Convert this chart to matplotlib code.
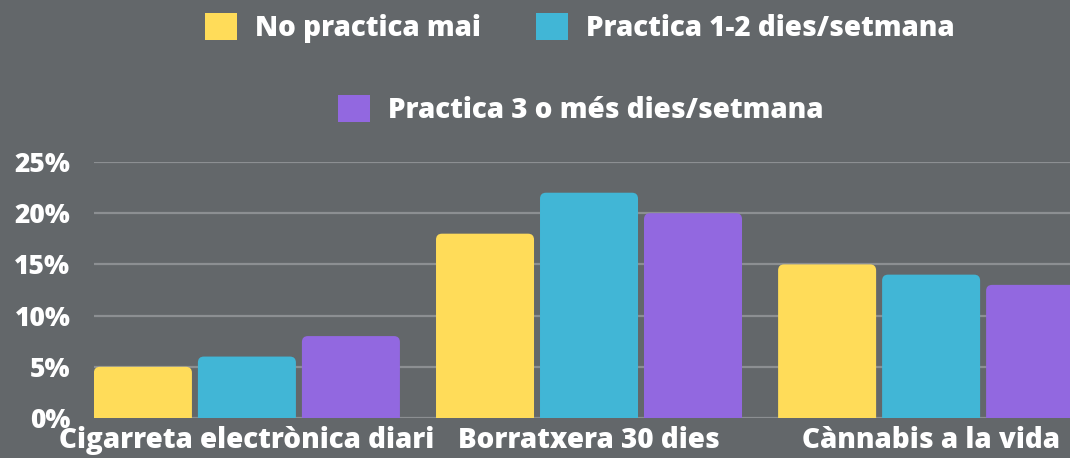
import matplotlib
matplotlib.use("Agg")
import matplotlib.pyplot as plt
from matplotlib.patches import FancyBboxPatch, Patch
import numpy as np

categories = ["Cigarreta electrònica diari", "Borratxera 30 dies", "Cànnabis a la vida"]
series_names = ["No practica mai", "Practica 1-2 dies/setmana", "Practica 3 o més dies/setmana"]
no_practica = [5, 18, 15]
practica_1_2 = [6, 22, 14]
practica_3 = [8, 20, 13]
yticks = [0, 5, 10, 15, 20, 25]
ytick_labels = ["0%", "5%", "10%", "15%", "20%", "25%"]

colors = ["#FFDC59", "#41B6D6", "#9268E0"]
bg = "#63676A"
W, H = 1070, 458
fig = plt.figure(figsize=(W / 100, H / 100), dpi=100, facecolor=bg)
ax = fig.add_axes([94 / W, 40 / H, 1 - 94 / W, 256 / H], facecolor=bg)

font = "Open Sans"
wt = 800
x = np.arange(len(categories))
bw = 0.2865
off = 0.304
containers = []
for i, (vals, c) in enumerate(zip([no_practica, practica_1_2, practica_3], colors)):
    bc = ax.bar(x + (i - 1) * off, vals, bw, color=c, label=series_names[i], zorder=3)
    containers.append(bc)

# rounded-top versions of the bars
px_x = 342.0
px_y = 256.0 / 25
r = 6.0
for bc in containers:
    for rect in bc.patches:
        x0, w, h = rect.get_x(), rect.get_width(), rect.get_height()
        rect.set_visible(False)
        fb = FancyBboxPatch((x0, -1.5), w, h + 1.5,
                            boxstyle=f"round,pad=0,rounding_size={r / px_x}",
                            mutation_aspect=(r / px_y) / (r / px_x),
                            facecolor=rect.get_facecolor(), edgecolor="none", zorder=3)
        ax.add_patch(fb)

ax.set_xlim(-0.447, 2.406)
ax.set_ylim(0, 25)
ax.set_yticks(yticks)
ax.set_yticklabels(ytick_labels)
ax.set_xticks(x)
ax.set_xticklabels(categories)
ax.grid(axis="y", color="#8C8F92", linewidth=1.6, zorder=1)
ax.set_axisbelow(True)
for s in ax.spines.values():
    s.set_visible(False)
ax.tick_params(axis="both", length=0, colors="white")
ax.tick_params(axis="y", pad=17)
ax.tick_params(axis="x", pad=6)
for lab in ax.get_xticklabels():
    lab.set_fontfamily(font)
    lab.set_fontweight(wt)
    lab.set_fontsize(20)
    lab.set_color("white")
for lab in ax.get_yticklabels():
    lab.set_fontfamily(font)
    lab.set_fontweight(wt)
    lab.set_fontsize(19)
    lab.set_color("white")

hs = [Patch(facecolor=c, edgecolor="none") for c in colors]
legkw = dict(frameon=False, handlelength=1.15, handleheight=1.15, handletextpad=0.65,
             columnspacing=2.0, borderpad=0, borderaxespad=0,
             prop={"family": font, "weight": wt, "size": 20},
             labelcolor="white")
leg1 = fig.legend(hs[:2], series_names[:2], loc="center", bbox_to_anchor=(580 / W, 1 - 28 / H), ncol=2, **legkw)
leg2 = fig.legend(hs[2:], series_names[2:], loc="center", bbox_to_anchor=(581 / W, 1 - 110 / H), ncol=1, **legkw)

fig.savefig("out.png", dpi=100, facecolor=bg)
